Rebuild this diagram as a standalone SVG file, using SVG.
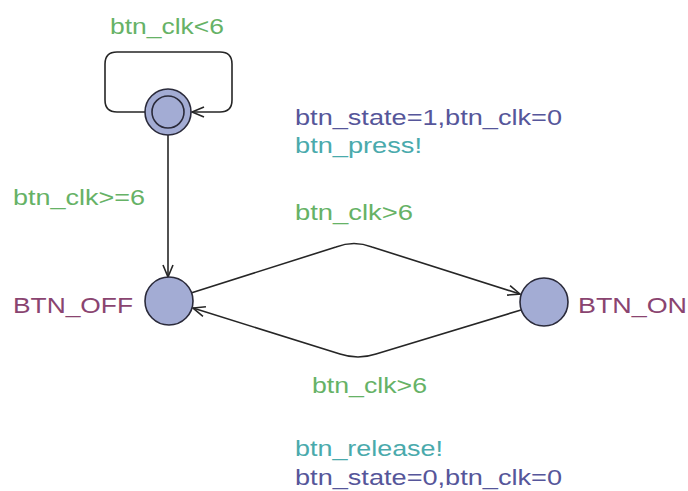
<svg xmlns="http://www.w3.org/2000/svg" width="688" height="491" viewBox="0 0 688 491">
  <style>
    text { font-family: "Liberation Sans", Arial, sans-serif; font-size: 22px; }
    .name { fill: #8a4470; }
    .guard { fill: #66b266; }
    .assign { fill: #56569a; }
    .sync { fill: #4aaaac; }
    .loc { fill: #a3acd4; stroke: #2a2a3a; stroke-width: 1.6; }
    .edge { fill: none; stroke: #262626; stroke-width: 1.6; marker-end: url(#arrow); }
  </style>
  <defs>
    <marker id="arrow" markerUnits="userSpaceOnUse" markerWidth="16" markerHeight="14" viewBox="-14 -7 16 14" refX="0" refY="0" orient="auto">
      <path d="M -12,-5 L 0,0 L -12,5" fill="none" stroke="#262626" stroke-width="1.6"/>
    </marker>
  </defs>

  <rect width="688" height="491" fill="#ffffff"/>

  <!-- transitions -->
  <g id="edges">
    <path class="edge" d="M 146,112 H 117 Q 105,112 105,100 V 64 Q 105,52 117,52 H 220 Q 232,52 232,64 V 100 Q 232,112 220,112 H 192"/>
    <path class="edge" d="M 168,135 V 277"/>
    <path class="edge" d="M 191,293 L 336,247 Q 354,240 372,247 L 520,294"/>
    <path class="edge" d="M 521,310 L 376,354 Q 358,360 340,354 L 193,308"/>
  </g>

  <!-- edge labels -->
  <g id="labels">
    <text class="guard" x="110" y="34" textLength="114" lengthAdjust="spacingAndGlyphs">btn_clk&lt;6</text>
    <text class="guard" x="13" y="205" textLength="132" lengthAdjust="spacingAndGlyphs">btn_clk&gt;=6</text>
    <text class="assign" x="295" y="125" textLength="267" lengthAdjust="spacingAndGlyphs">btn_state=1,btn_clk=0</text>
    <text class="sync" x="295" y="153" textLength="127" lengthAdjust="spacingAndGlyphs">btn_press!</text>
    <text class="guard" x="295" y="220" textLength="118" lengthAdjust="spacingAndGlyphs">btn_clk&gt;6</text>
    <text class="guard" x="312" y="393" textLength="115" lengthAdjust="spacingAndGlyphs">btn_clk&gt;6</text>
    <text class="sync" x="295" y="456" textLength="148" lengthAdjust="spacingAndGlyphs">btn_release!</text>
    <text class="assign" x="295" y="485" textLength="267" lengthAdjust="spacingAndGlyphs">btn_state=0,btn_clk=0</text>
  </g>

  <!-- initial location -->
  <g id="init">
    <circle class="loc" cx="168" cy="112" r="23"/>
    <circle class="loc" cx="168" cy="112" r="16"/>
  </g>

  <g id="btn_off">
    <circle class="loc" cx="169" cy="301" r="24"/>
    <text class="name" x="13" y="313" textLength="120" lengthAdjust="spacingAndGlyphs">BTN_OFF</text>
  </g>

  <g id="btn_on">
    <circle class="loc" cx="544" cy="302" r="24"/>
    <text class="name" x="578" y="313" textLength="109" lengthAdjust="spacingAndGlyphs">BTN_ON</text>
  </g>
</svg>
